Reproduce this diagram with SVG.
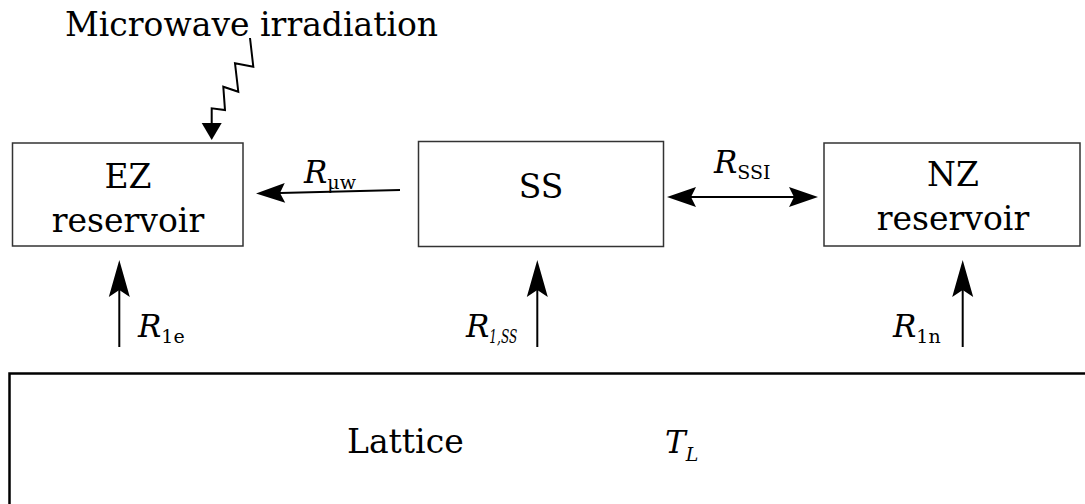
<svg xmlns="http://www.w3.org/2000/svg" width="1085" height="504" viewBox="0 0 1085 504">
<style>
text{font-family:"DejaVu Serif","Liberation Serif",serif;fill:#000}
.t{font-size:33px}
.m{font-size:31px;font-style:italic}
.s{font-size:19px;font-style:normal}
.si{font-size:19px;font-style:italic}
.box{fill:#fff;stroke:#333;stroke-width:1.5}
.ln{fill:none;stroke:#000;stroke-width:2}
</style>
<defs>
<marker id="big" markerUnits="userSpaceOnUse" markerWidth="50" markerHeight="30" viewBox="-10 -15 50 30" refX="0" refY="0" orient="auto" overflow="visible">
<path d="M30,0 L-7,-10.5 L0,0 L-7,10.5 Z" fill="#000"/>
</marker>
<marker id="mid" markerUnits="userSpaceOnUse" markerWidth="40" markerHeight="30" viewBox="-10 -15 40 30" refX="0" refY="0" orient="auto-start-reverse" overflow="visible">
<path d="M24,0 L-5,-10 L0,0 L-5,10 Z" fill="#000"/>
</marker>
<marker id="tri" markerUnits="userSpaceOnUse" markerWidth="30" markerHeight="30" viewBox="-5 -15 30 30" refX="0" refY="0" orient="auto" overflow="visible">
<path d="M17,0 L0,-10 L0,10 Z" fill="#000"/>
</marker>
</defs>
<rect width="1085" height="504" fill="#fff"/>
<text class="t" x="65" y="36">Microwave irradiation</text>
<g id="ez">
<rect class="box" x="12.5" y="143" width="230.5" height="103"/>
<text class="t" x="128" y="188" text-anchor="middle">EZ</text>
<text class="t" x="128" y="232" text-anchor="middle">reservoir</text>
</g>
<g id="ss">
<rect class="box" x="418.5" y="141.5" width="245" height="105"/>
<text class="t" x="541" y="198" text-anchor="middle">SS</text>
</g>
<g id="nz">
<rect class="box" x="824" y="143" width="256" height="103"/>
<text class="t" x="953" y="186" text-anchor="middle">NZ</text>
<text class="t" x="953" y="230" text-anchor="middle">reservoir</text>
</g>
<g id="lattice">
<rect x="9.5" y="373.5" width="1090" height="150" fill="#fff" stroke="#000" stroke-width="2.5"/>
<text class="t" x="347" y="453">Lattice</text>
<text class="m" x="665" y="453">T<tspan class="si" dy="8">L</tspan></text>
</g>
<g id="connectors">
<polyline class="ln" points="250,38 253.3,66.7 235,63.3 238.3,91.7 223.3,86.7 225,110 211.7,108.3 211.7,123" marker-end="url(#tri)"/>
<line class="ln" x1="400" y1="190" x2="280" y2="193" marker-end="url(#mid)"/>
<line class="ln" x1="691" y1="197" x2="794" y2="197" marker-start="url(#mid)" marker-end="url(#mid)"/>
<line class="ln" x1="119.3" y1="347" x2="119.3" y2="290" marker-end="url(#big)"/>
<line class="ln" x1="537.3" y1="347" x2="537.3" y2="290" marker-end="url(#big)"/>
<line class="ln" x1="962.7" y1="347" x2="962.7" y2="290" marker-end="url(#big)"/>
</g>
<g id="labels">
<text class="m" x="304" y="183">R<tspan class="s" dy="6">μw</tspan></text>
<text class="m" x="714" y="173">R<tspan class="s" dy="6">SSI</tspan></text>
<text class="m" x="138" y="337">R<tspan class="s" dy="6">1e</tspan></text>
<text class="m" x="466" y="337">R<tspan class="si" dy="6" textLength="28" lengthAdjust="spacingAndGlyphs">1,SS</tspan></text>
<text class="m" x="893" y="337">R<tspan class="s" dy="6">1n</tspan></text>
</g>
</svg>
